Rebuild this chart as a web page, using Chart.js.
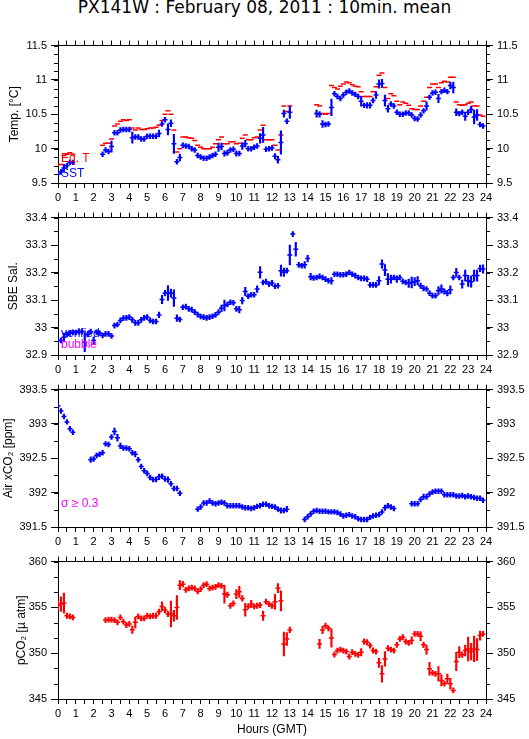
<!DOCTYPE html>
<html>
<head>
<meta charset="utf-8">
<title>PX141W 10min mean</title>
<script src="https://cdn.jsdelivr.net/npm/chart.js@4.4.1/dist/chart.umd.min.js"></script>
<style>
  body { margin: 0; background: #fff; }
  #page { position: relative; width: 529px; height: 739px; overflow: hidden; background: #fff; }
  #title {
    position: absolute; left: 0; top: -1px; width: 529px; text-align: center;
    font: 17px/17px "DejaVu Sans", sans-serif; color: #000; white-space: nowrap;
  }
  canvas { position: absolute; left: 0; }
</style>
</head>
<body>
<div id="page">
  <div id="title">PX141W : February 08, 2011 : 10min. mean</div>
  <canvas id="temp"></canvas>
  <canvas id="sal"></canvas>
  <canvas id="air"></canvas>
  <canvas id="pco2"></canvas>
</div>
<script>
const _ = null;
const SLOT = 1 / 6; // 10 minute means, one row = one hour (6 slots)

// Panel 1 : SST and equilibrator temperature
const sstVals = [
  9.63, 9.66, 9.72, 9.75, 9.80, 9.80,
  _, _, _, _, _, _,
  _, _, _, 9.92, 9.98, 9.96,
  10.03, 10.23, 10.23, 10.27, 10.28, 10.28,
  10.28, 10.16, 10.17, 10.17, 10.14, 10.14,
  10.18, 10.18, 10.18, 10.18, 10.22, 10.36,
  10.42, 10.28, 10.37, 10.07, 9.81, 9.87,
  10.05, 10.04, 10.03, 10.00, 9.98, 9.90,
  9.88, 9.86, 9.86, 9.88, 9.90, 9.92,
  10.02, 10.03, 9.93, 9.94, 9.98, 9.99,
  9.93, 9.93, 10.04, 10.07, 10.00, 10.00,
  10.02, 10.04, 10.15, 10.20, 9.99, 10.00,
  10.01, 9.89, 9.84, 10.09, 10.51, 10.40,
  10.53, _, _, _, _, _,
  _, _, _, 10.51, 10.50, 10.36,
  10.35, 10.36, 10.60, 10.80, 10.76, 10.73,
  10.78, 10.82, 10.84, 10.81, 10.79, 10.76,
  10.69, 10.63, 10.63, 10.63, 10.70, 10.78,
  10.94, 10.95, 10.70, 10.58, 10.65, 10.62,
  10.53, 10.50, 10.50, 10.52, 10.52, 10.49,
  10.44, 10.43, 10.49, 10.55, 10.62, 10.75,
  10.81, 10.82, 10.73, 10.83, 10.85, 10.83,
  10.92, 10.89, 10.53, 10.51, 10.53, 10.47,
  10.53, 10.57, 10.46, 10.49, 10.35, 10.33
];
const sstErr = [
  0, 0, 0.05, 0.03, 0, 0,
  0, 0, 0, 0, 0, 0,
  0, 0, 0, 0, 0, 0,
  0.08, 0, 0, 0, 0, 0,
  0, 0.08, 0, 0, 0, 0,
  0, 0, 0, 0, 0.05, 0.03,
  0.03, 0.08, 0.05, 0.14, 0.03, 0.05,
  0, 0, 0, 0, 0, 0,
  0, 0, 0, 0, 0, 0,
  0.06, 0.05, 0.04, 0.04, 0, 0,
  0.04, 0, 0.05, 0.05, 0, 0,
  0, 0, 0.07, 0.11, 0, 0,
  0, 0.04, 0.05, 0.17, 0.05, 0,
  0.09, 0, 0, 0, 0, 0,
  0, 0, 0, 0.05, 0.04, 0.05,
  0.03, 0.03, 0.12, 0.03, 0, 0,
  0, 0, 0, 0, 0, 0,
  0.07, 0, 0.04, 0.04, 0, 0.05,
  0.06, 0.06, 0.08, 0.05, 0.03, 0,
  0, 0, 0, 0, 0, 0,
  0, 0, 0, 0, 0.06, 0,
  0, 0, 0.06, 0, 0, 0,
  0.05, 0.08, 0.05, 0, 0, 0.06,
  0.03, 0.05, 0.10, 0.08, 0, 0
];
const eqtVals = [
  9.77, 9.77, 9.90, 9.92, 9.94, 9.92,
  _, _, _, _, _, _,
  _, _, _, 10.05, 10.08, 10.08,
  10.14, 10.33, 10.36, 10.40, 10.42, 10.41,
  10.42, 10.30, 10.27, 10.30, 10.28, 10.28,
  10.29, 10.30, 10.30, 10.31, 10.34, 10.41,
  10.50, 10.55, 10.50, 10.27, 9.95, 10.00,
  10.17, 10.17, 10.16, 10.15, 10.12, 10.05,
  10.02, 10.00, 10.00, 10.00, 10.02, 10.07,
  10.13, 10.17, 10.07, 10.07, 10.10, 10.10,
  10.07, 10.08, 10.15, 10.20, 10.13, 10.13,
  10.16, 10.17, 10.27, 10.34, 10.13, 10.13,
  10.13, 10.05, 9.98, 10.20, 10.62, 10.54,
  10.62, _, _, _, _, _,
  _, _, _, 10.64, 10.62, 10.51,
  10.50, 10.51, 10.92, 10.89, 10.87, 10.91,
  10.94, 10.97, 10.96, 10.93, 10.91, 10.90,
  10.83, 10.76, 10.76, 10.76, 10.83, 10.90,
  11.07, 11.10, 10.89, 10.73, 10.80, 10.77,
  10.69, 10.64, 10.68, 10.66, 10.63, 10.58,
  10.57, 10.57, 10.62, 10.69, 10.75, 10.89,
  10.94, 10.94, 10.89, 10.96, 10.98, 10.97,
  11.04, 11.04, 10.68, 10.64, 10.63, 10.64,
  10.66, 10.68, 10.62, 10.62, 10.49, 10.47
];

// Panel 2 : SBE salinity
const salVals = [
  32.953, 32.953, 32.965, 32.975, 32.980, 32.983,
  32.982, 32.985, 32.985, 32.947, 32.975, 32.985,
  32.953, 32.983, 32.980, 32.971, 32.977, 32.977,
  32.969, 33.007, 33.011, 33.026, 33.034, 33.035,
  33.038, 33.028, 33.017, 33.017, 33.028, 33.035,
  33.038, 33.026, 33.022, 33.022, 33.046, 33.102,
  33.125, 33.126, 33.125, 33.107, 33.034, 33.029,
  33.074, 33.076, 33.068, 33.065, 33.056, 33.047,
  33.040, 33.038, 33.035, 33.038, 33.041, 33.046,
  33.056, 33.070, 33.080, 33.084, 33.092, 33.090,
  33.068, 33.065, 33.098, 33.131, 33.114, 33.119,
  33.119, 33.140, 33.201, 33.164, 33.167, 33.158,
  33.162, 33.150, 33.152, 33.207, 33.201, 33.207,
  33.264, 33.340, 33.285, 33.228, 33.225, 33.228,
  33.251, 33.185, 33.180, 33.182, 33.186, 33.182,
  33.176, 33.170, 33.170, 33.194, 33.194, 33.192,
  33.192, 33.194, 33.200, 33.194, 33.189, 33.182,
  33.179, 33.179, 33.176, 33.155, 33.155, 33.155,
  33.170, 33.231, 33.209, 33.176, 33.176, 33.182,
  33.176, 33.182, 33.168, 33.164, 33.161, 33.164,
  33.167, 33.170, 33.152, 33.143, 33.140, 33.125,
  33.116, 33.116, 33.134, 33.140, 33.131, 33.125,
  33.137, 33.182, 33.200, 33.182, 33.158, 33.189,
  33.170, 33.167, 33.189, 33.189, 33.215, 33.213
];
const salErr = [
  0, 0, 0.015, 0, 0, 0.008,
  0, 0, 0, 0.035, 0, 0,
  0.012, 0.008, 0, 0, 0, 0,
  0, 0, 0, 0, 0, 0,
  0, 0, 0, 0, 0, 0,
  0, 0, 0, 0, 0.010, 0.015,
  0.010, 0.027, 0.015, 0.030, 0.012, 0.008,
  0, 0, 0, 0, 0, 0,
  0, 0, 0, 0, 0, 0,
  0, 0.012, 0.020, 0, 0, 0,
  0, 0.012, 0.012, 0.015, 0, 0,
  0, 0.012, 0.021, 0, 0, 0,
  0.010, 0, 0, 0.020, 0.015, 0,
  0.036, 0.008, 0.025, 0, 0, 0.012,
  0.012, 0.012, 0, 0, 0, 0,
  0, 0, 0.012, 0, 0, 0,
  0, 0, 0, 0, 0, 0,
  0, 0, 0, 0.008, 0.008, 0.008,
  0.015, 0.015, 0.020, 0.020, 0.015, 0,
  0.012, 0, 0, 0, 0.015, 0.020,
  0.015, 0.015, 0.010, 0.010, 0, 0,
  0, 0, 0.015, 0.015, 0.010, 0.010,
  0.015, 0, 0.015, 0, 0.015, 0.020,
  0.020, 0.020, 0.020, 0.020, 0.012, 0.015
];

// Panel 3 : Air xCO2
const airVals = [
  393.26, 393.19, 393.11, 393.03, 392.93, 392.88,
  _, _, _, _, _, 392.48,
  392.49, 392.54, 392.56, 392.58, 392.71, 392.70,
  392.81, 392.89, 392.80, 392.68, 392.65, 392.65,
  392.64, 392.58, 392.56, 392.48, 392.38, 392.32,
  392.28, 392.22, 392.19, 392.19, 392.23, 392.24,
  392.20, 392.19, 392.13, 392.06, 392.06, 391.99,
  _, _, _, _, _, 391.76,
  391.79, 391.85, 391.85, 391.88, 391.85, 391.84,
  391.85, 391.86, 391.85, 391.81, 391.81, 391.81,
  391.81, 391.81, 391.79, 391.78, 391.78, 391.77,
  391.78, 391.80, 391.81, 391.83, 391.83, 391.81,
  391.80, 391.79, 391.76, 391.74, 391.74, 391.76,
  _, _, _, _, _, 391.61,
  391.65, 391.69, 391.73, 391.74, 391.73, 391.73,
  391.73, 391.72, 391.72, 391.72, 391.71, 391.69,
  391.66, 391.67, 391.68, 391.66, 391.65, 391.62,
  391.61, 391.61, 391.61, 391.64, 391.66, 391.67,
  391.68, 391.72, 391.78, 391.81, 391.79, 391.77,
  _, _, _, _, _, 391.84,
  391.84, 391.84, 391.90, 391.94, 391.94, 391.98,
  392.01, 392.02, 392.02, 392.02, 391.97, 391.97,
  391.97, 391.97, 391.95, 391.95, 391.96, 391.94,
  391.95, 391.94, 391.93, 391.92, 391.92, 391.89
];
const airErr = [
  0, 0.02, 0, 0.02, 0.03, 0,
  0, 0, 0, 0, 0, 0.04,
  0.03, 0, 0, 0, 0.02, 0,
  0.03, 0.05, 0.05, 0.04, 0.03, 0,
  0, 0.03, 0.04, 0, 0, 0,
  0, 0, 0, 0, 0.04, 0,
  0, 0.04, 0.03, 0.03, 0.03, 0.03,
  0, 0, 0, 0, 0, 0.03,
  0, 0, 0.03, 0.03, 0, 0,
  0, 0.03, 0, 0, 0, 0,
  0, 0, 0, 0, 0, 0,
  0, 0, 0, 0, 0, 0.03,
  0, 0, 0.03, 0.04, 0.03, 0.04,
  0, 0, 0, 0, 0, 0,
  0, 0.03, 0, 0, 0, 0,
  0, 0, 0, 0, 0, 0,
  0.03, 0, 0, 0.03, 0, 0,
  0, 0, 0, 0, 0, 0,
  0.03, 0.03, 0.04, 0.03, 0, 0,
  0, 0, 0, 0, 0, 0,
  0.03, 0.03, 0, 0.04, 0.04, 0,
  0, 0, 0.03, 0, 0, 0.03,
  0.03, 0.03, 0, 0, 0.03, 0.03,
  0, 0.03, 0, 0.03, 0.03, 0
];

// Panel 4 : pCO2
const pco2Vals = [
  355.25, 355.36, 355.47, 354.09, 354.02, 353.91,
  _, _, _, _, _, _,
  _, _, _, _, 353.62, 353.66,
  353.66, 353.62, 353.37, 353.91, 353.44, 353.08,
  353.19, 352.57, 353.37, 354.02, 353.80, 353.80,
  354.09, 354.02, 354.09, 354.09, 354.53, 355.11,
  354.71, 354.28, 354.28, 354.09, 355.00, 357.43,
  357.54, 356.92, 357.07, 357.17, 357.07, 356.74,
  357.00, 357.43, 357.54, 357.07, 357.17, 357.25,
  357.43, 357.36, 356.45, 356.38, 355.18, 355.43,
  356.45, 356.70, 355.98, 354.75, 355.11, 355.36,
  355.11, 355.18, 355.25, 354.09, 355.62, 355.36,
  355.18, 355.62, 357.10, 355.72, 351.01, 351.56,
  352.54, _, _, _, _, _,
  _, _, _, _, 351.01, 352.54,
  353.00, 352.72, 351.67, 349.86, 350.29, 350.40,
  350.29, 350.18, 349.64, 350.11, 349.93, 349.82,
  350.11, 351.27, 351.20, 350.83, 350.29, 350.18,
  348.95, 347.75, 349.38, 350.54, 350.40, 350.29,
  350.91, 351.56, 351.74, 351.27, 351.12, 351.38,
  352.10, 352.10, 351.85, 350.91, 350.40, 348.30,
  347.86, 347.75, 347.75, 347.03, 346.67, 347.21,
  346.67, 345.94, 349.09, 350.11, 349.82, 350.29,
  350.47, 350.18, 350.47, 350.40, 351.92, 352.10
];
const pco2Err = [
  0.5, 0.8, 1.1, 0, 0, 0,
  0, 0, 0, 0, 0, 0,
  0, 0, 0, 0, 0, 0,
  0, 0, 0, 0, 0, 0,
  0, 0.4, 0.6, 0, 0, 0,
  0, 0, 0, 0, 0.3, 0.5,
  0.3, 0, 1.4, 0.6, 1.3, 0.5,
  0.3, 0, 0, 0, 0, 0,
  0, 0, 0, 0, 0, 0,
  0, 0, 1.0, 0.3, 0, 0,
  0.5, 0.6, 0.3, 0.7, 0, 0.4,
  0, 0, 0, 0.5, 0, 0,
  0, 0.8, 0.5, 1.1, 1.3, 0.7,
  0.3, 0, 0, 0, 0, 0,
  0, 0, 0, 0, 0.5, 0.4,
  0.3, 0, 1.0, 0, 0, 0,
  0, 0, 0, 0, 0, 0,
  0.4, 0.3, 0.3, 0, 0.3, 0,
  0.5, 0.9, 0.8, 0, 0, 0,
  0, 0, 0.3, 0, 0, 0.4,
  0, 0, 0.5, 0.3, 0.5, 0.7,
  0, 0, 0.8, 0.6, 0, 0.5,
  0.6, 0, 1.0, 0.6, 0, 0.6,
  1.3, 0.9, 1.4, 1.2, 0.5, 0
];

const BLUE = '#0000ff', RED = '#ff0000', MAGENTA = '#ff00ff';
const FONT = "'Liberation Sans', 'DejaVu Sans', Arial, sans-serif";
const tickFont = { family: FONT, size: 11 };
const titleFont = { family: FONT, size: 12 };

// "+" marks: a floating bar for the spread and a short line point for the mean
function plusMarks(vals, errs, minErr, color) {
  const pts = [], bars = [];
  vals.forEach((v, i) => {
    if (v === null) return;
    const e = Math.max(errs[i], minErr);
    pts.push({ x: i * SLOT, y: v });
    bars.push({ x: i * SLOT, y: [v - e, v + e] });
  });
  return [
    { type: 'scatter', data: pts, pointStyle: 'line', pointRadius: 2.5, pointHoverRadius: 2.5,
      pointBorderWidth: 1.5, borderColor: color, pointBorderColor: color, pointBackgroundColor: color },
    { type: 'bar', data: bars, backgroundColor: color, borderWidth: 0, barThickness: 1.5, maxBarThickness: 1.5 }
  ];
}

function dashMarks(vals, color) {
  const pts = [];
  vals.forEach((v, i) => { if (v !== null) pts.push({ x: i * SLOT, y: v }); });
  return { type: 'scatter', data: pts, pointStyle: 'line', pointRadius: 2.5, pointHoverRadius: 2.5,
    pointBorderWidth: 1.5, borderColor: color, pointBorderColor: color, pointBackgroundColor: color };
}

function xAxis(position, height, labels, title) {
  return {
    type: 'linear', position, min: 0, max: 24, offset: false,
    afterFit(s) { s.height = height; },
    border: { color: '#000', width: 1 },
    grid: { drawOnChartArea: false, tickLength: 5, tickColor: '#000', color: '#000', offset: false },
    ticks: {
      stepSize: 0.5, autoSkip: false, maxRotation: 0, minRotation: 0, padding: 3,
      color: '#000', font: tickFont,
      callback: v => (labels && Number.isInteger(v)) ? String(v) : ''
    },
    title: title
      ? { display: true, text: title, color: '#000', font: titleFont, padding: { top: 0, bottom: 2 } }
      : { display: false }
  };
}

function yAxis(position, min, max, step, title, titlePad) {
  return {
    type: 'linear', position, min, max,
    afterFit(s) { s.width = position === 'left' ? 58 : 43; },
    border: { color: '#000', width: 1 },
    grid: { drawOnChartArea: false, tickLength: 7, tickColor: '#000' },
    ticks: { stepSize: step, padding: 4, color: '#000', font: tickFont, callback: v => String(+v.toFixed(3)) },
    title: title
      ? { display: true, text: title, color: '#000', font: titleFont, padding: { top: titlePad, bottom: 0 } }
      : { display: false }
  };
}

// minor ticks on both y axes and the small notes inside the plot
const decor = {
  id: 'decor',
  afterDraw(chart, args, opts) {
    const { ctx, chartArea: a, scales: { y } } = chart;
    ctx.save();
    ctx.strokeStyle = '#000';
    ctx.lineWidth = 1;
    ctx.beginPath();
    for (let k = 0; y.min + k * opts.minor <= y.max + 1e-9; k++) {
      const py = Math.round(y.getPixelForValue(y.min + k * opts.minor)) + 0.5;
      ctx.moveTo(a.left - 4, py); ctx.lineTo(a.left, py);
      ctx.moveTo(a.right, py); ctx.lineTo(a.right + 4, py);
    }
    ctx.stroke();
    ctx.font = '12px ' + FONT;
    ctx.textBaseline = 'alphabetic';
    for (const n of opts.notes || []) {
      ctx.fillStyle = n.color;
      ctx.fillText(n.text, a.left + 3, a.bottom - n.dy);
    }
    ctx.restore();
  }
};

function makePanel(id, top, bottomH, yCfg, datasets, decorOpts, xTitle) {
  const cv = document.getElementById(id);
  cv.width = 529;
  cv.height = 10 + 138 + bottomH;
  cv.style.top = top + 'px';
  return new Chart(cv, {
    type: 'scatter',
    data: { datasets },
    options: {
      responsive: false,
      animation: false,
      events: [],
      layout: { padding: 0 },
      plugins: { legend: { display: false }, tooltip: { enabled: false }, decor: decorOpts },
      scales: {
        x: xAxis('bottom', bottomH, true, xTitle),
        xTop: xAxis('top', 10, false),
        y: yAxis('left', yCfg.min, yCfg.max, yCfg.step, yCfg.title, yCfg.pad),
        yR: yAxis('right', yCfg.min, yCfg.max, yCfg.step)
      }
    },
    plugins: [decor]
  });
}

makePanel('temp', 35, 24,
  { min: 9.5, max: 11.5, step: 0.5, title: 'Temp. [°C]', pad: 7 },
  [...plusMarks(sstVals, sstErr, 0.035, BLUE), dashMarks(eqtVals, RED)],
  { minor: 0.125, notes: [{ text: 'Eq. T', color: RED, dy: 21 }, { text: 'SST', color: BLUE, dy: 6 }] });

makePanel('sal', 207, 24,
  { min: 32.9, max: 33.4, step: 0.1, title: 'SBE Sal.', pad: 6 },
  plusMarks(salVals, salErr, 0.009, BLUE),
  { minor: 0.05, notes: [{ text: 'verified', color: BLUE, dy: 18 }, { text: 'bubble', color: MAGENTA, dy: 7 }] });

makePanel('air', 379, 24,
  { min: 391.5, max: 393.5, step: 0.5, title: 'Air xCO₂ [ppm]', pad: 1 },
  plusMarks(airVals, airErr, 0.035, BLUE),
  { minor: 0.25, notes: [{ text: 'σ ≥ 0.3', color: MAGENTA, dy: 20 }] });

makePanel('pco2', 551, 40,
  { min: 345, max: 360, step: 5, title: 'pCO₂ [µ atm]', pad: 14 },
  plusMarks(pco2Vals, pco2Err, 0.28, RED),
  { minor: 5 / 3, notes: [] }, 'Hours (GMT)');
</script>
</body>
</html>
